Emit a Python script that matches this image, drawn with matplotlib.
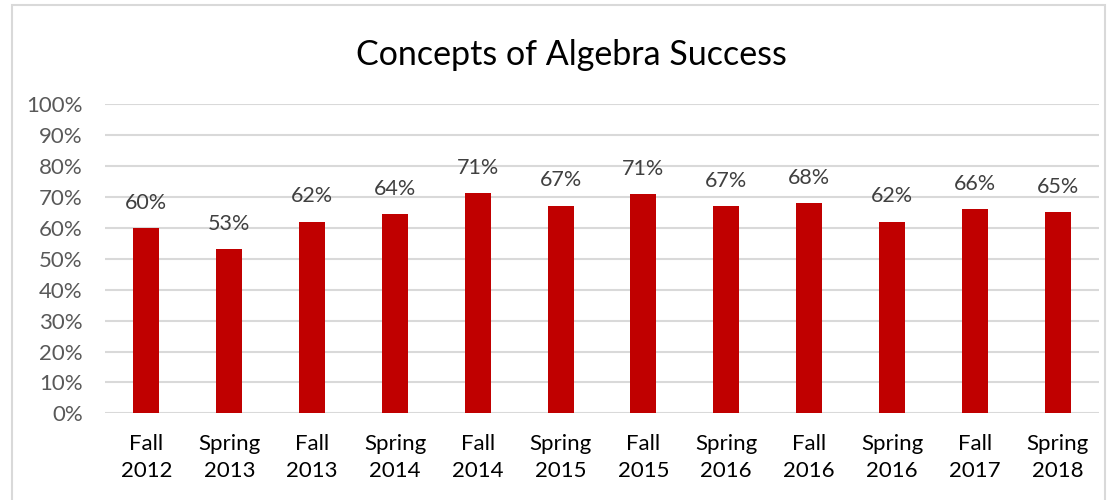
import matplotlib.pyplot as plt
from matplotlib.patches import Rectangle
from matplotlib.ticker import PercentFormatter

# Data
terms = ['Fall\n2012', 'Spring\n2013', 'Fall\n2013', 'Spring\n2014', 'Fall\n2014', 'Spring\n2015',
         'Fall\n2015', 'Spring\n2016', 'Fall\n2016', 'Spring\n2016', 'Fall\n2017', 'Spring\n2018']
success = [0.60, 0.532, 0.62, 0.644, 0.713, 0.672, 0.71, 0.671, 0.68, 0.62, 0.66, 0.65]
yticks = [0.0, 0.1, 0.2, 0.3, 0.4, 0.5, 0.6, 0.7, 0.8, 0.9, 1.0]

plt.rcParams['font.family'] = ['Lato', 'DejaVu Sans']

fig = plt.figure(figsize=(11.1, 5), dpi=100)
ax = fig.add_axes([0.0946, 0.1734, 0.8955, 0.618])

# Chart border
fig.patches.append(Rectangle((12 / 1110, -0.01), 1093 / 1110, 1.0 - 5 / 500 + 0.01,
                             transform=fig.transFigure, fill=False,
                             edgecolor='#D9D9D9', linewidth=1.5))

x = range(len(terms))
bars = ax.bar(x, success, width=0.314, color='#C00000', zorder=3)

for b, v in zip(bars, success):
    ax.annotate(f'{v * 100:.0f}%', (b.get_x() + b.get_width() / 2, v),
                xytext=(0, 11), textcoords='offset points',
                ha='center', va='bottom', fontsize=15.5, color='#404040')

ax.set_xlim(-0.5, len(terms) - 0.5)
ax.set_ylim(0, 1.0)
ax.set_yticks(yticks)
ax.yaxis.set_major_formatter(PercentFormatter(1.0, decimals=0))
ax.set_xticks(list(x))
ax.set_xticklabels(terms, fontsize=16, color='black', linespacing=1.45)
ax.tick_params(axis='y', labelsize=16, labelcolor='#595959', length=0, pad=16)
ax.tick_params(axis='x', length=0, pad=15)
ax.grid(axis='y', color='#D9D9D9', linewidth=1.5, zorder=0)
for s in ax.spines.values():
    s.set_visible(False)

fig.text(571 / 1110, 1 - 55 / 500, 'Concepts of Algebra Success', ha='center', va='center',
         fontsize=24.5, color='black')

fig.savefig('out.png', dpi=100)
